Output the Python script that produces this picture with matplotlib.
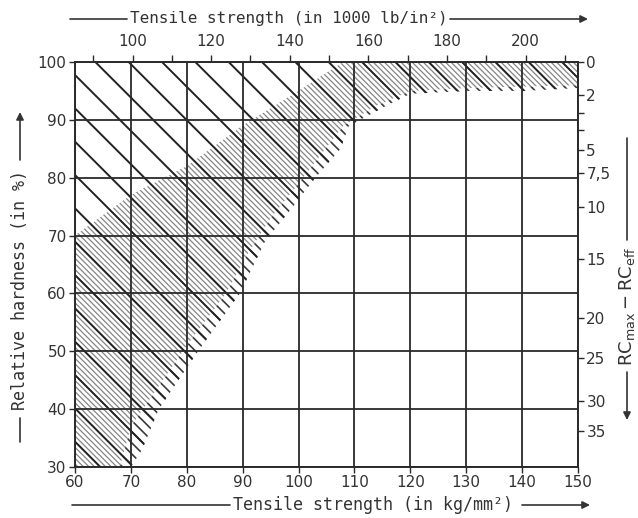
import numpy as np
import matplotlib
matplotlib.use("Agg")
import matplotlib.pyplot as plt

# tensile strength (kg/mm^2) and relative hardness (%)
kg_ticks = [60, 70, 80, 90, 100, 110, 120, 130, 140, 150]
hard_ticks = [30, 40, 50, 60, 70, 80, 90, 100]

# top scale, 1000 lb/in^2
ksi_major = [100, 120, 140, 160, 180, 200]
ksi_minor = [90, 110, 130, 150, 170, 190, 210]

# right scale, RC_max - RC_eff, placed at relative hardness positions
rc_labels = ["0", "2", "5", "7,5", "10", "15", "20", "25", "30", "35"]
rc_pos = [100, 94.3, 84.8, 80.8, 75.0, 66.0, 55.8, 48.8, 41.4, 36.2]
rc_minor_pos = [91.2, 88.2]

# outline of the hatched field (kg/mm^2, %)
field_kg = [60, 150, 150, 140, 130, 120, 116, 112, 109, 107.5, 103, 99, 94, 89.5, 82, 75, 72, 70, 60]
field_h = [100, 100, 95.5, 95, 95, 94.5, 92.6, 90.5, 89, 85, 80, 75, 69, 60, 50, 40, 33, 30, 30]

# part of the field below the coarse upper-left corner
lower_kg = [60, 70, 80, 90, 100, 108, 150, 150, 140, 130, 120, 116, 112, 109, 107.5, 103, 99, 94,
            89.5, 82, 75, 72, 70, 60]
lower_h = [70, 77, 82, 89, 95, 100, 100, 95.5, 95, 95, 94.5, 92.6, 90.5, 89, 85, 80, 75, 69,
           60, 50, 40, 33, 30, 30]

# densely hatched band inside the field
band_kg = [60, 70, 80, 90, 100, 108, 150, 150, 130, 120, 114, 108, 104, 100, 95, 91, 87, 80, 75, 70, 68, 60]
band_h = [70, 77, 82, 89, 95, 100, 100, 96, 95.5, 95, 92.5, 89, 84, 79, 73, 67, 60, 51, 44, 37, 30, 30]

ink = "#2a2a2a"
txt = "#333333"
plt.rcParams["font.family"] = "DejaVu Sans"

fig = plt.figure(figsize=(6.38, 5.18), dpi=100)
W, H = 638, 518
ax = fig.add_axes([75 / W, 1 - 467 / H, 503 / W, 405 / H])
ax.set_xlim(60, 150)
ax.set_ylim(30, 100)

medium = ax.fill(lower_kg, lower_h, facecolor="none", edgecolor="#3a3a3a",
                 hatch="\\\\\\", linewidth=0, zorder=1.0)[0]
dense = ax.fill(band_kg, band_h, facecolor="white", edgecolor="#858585",
                hatch="\\\\\\\\\\\\", linewidth=0, zorder=1.1)[0]
coarse = ax.fill(field_kg, field_h, facecolor="none", edgecolor="#222222",
                 hatch="\\", linewidth=0, zorder=1.2)[0]
if hasattr(coarse, "set_hatch_linewidth"):
    coarse.set_hatch_linewidth(1.4)
    medium.set_hatch_linewidth(1.2)
    dense.set_hatch_linewidth(0.9)

ax.set_xticks(kg_ticks)
ax.set_yticks(hard_ticks)
ax.grid(True, color=ink, linewidth=1.3)
for s in ax.spines.values():
    s.set_color(ink)
    s.set_linewidth(1.4)
ax.tick_params(colors=ink, labelcolor=txt, labelsize=11, length=4, width=1, pad=2)

# top scale (lb/in^2)
top = ax.secondary_xaxis("top", functions=(lambda k: k * 1.42233, lambda p: p / 1.42233))
top.set_xticks(ksi_major)
top.set_xticks(ksi_minor, minor=True)
top.tick_params(which="both", colors=ink, labelcolor=txt, labelsize=11,
                length=5, width=1, pad=4)
top.spines["top"].set_visible(False)

# right scale
right = ax.secondary_yaxis("right")
right.set_yticks(rc_pos, labels=rc_labels)
right.set_yticks(rc_minor_pos, minor=True)
right.tick_params(which="both", colors=ink, labelcolor=txt, labelsize=11,
                  length=4, width=1, pad=2)
right.spines["right"].set_visible(False)

# axis titles with arrow lines, in figure pixels
arrow = dict(arrowstyle="-|>", color=txt, lw=1.2, mutation_scale=11, shrinkA=0, shrinkB=0)
line = dict(arrowstyle="-", color=txt, lw=1.2, shrinkA=0, shrinkB=0)
mono = "DejaVu Sans Mono"


def fp(x, y):
    return (x, H - y)


def deco(p0, p1, props):
    ax.annotate("", xy=fp(*p1), xytext=fp(*p0), xycoords="figure pixels",
                textcoords="figure pixels", arrowprops=props)


fig.text(130 / W, 1 - 19 / H, "Tensile strength (in 1000 lb/in²)", ha="left", va="center",
         fontsize=11.5, family=mono, color=txt)
deco((70, 19), (127, 19), line)
deco((450, 19), (588, 19), arrow)

fig.text(233 / W, 1 - 505 / H, "Tensile strength (in kg/mm²)", ha="left", va="center",
         fontsize=12, family=mono, color=txt)
deco((72, 505), (230, 505), line)
deco((522, 505), (590, 505), arrow)

fig.text(20 / W, 1 - 290 / H, "Relative hardness (in %)", ha="center", va="center",
         rotation=90, fontsize=12, family=mono, color=txt)
deco((20, 160), (20, 112), arrow)
deco((20, 418), (20, 442), line)

fig.text(627 / W, 1 - 306 / H, r"$\mathrm{RC_{max}-RC_{eff}}$", ha="center", va="center",
         rotation=90, fontsize=13, color=txt)
deco((627, 138), (627, 240), line)
deco((627, 372), (627, 420), arrow)

fig.savefig("out.png", dpi=100, facecolor="white")
